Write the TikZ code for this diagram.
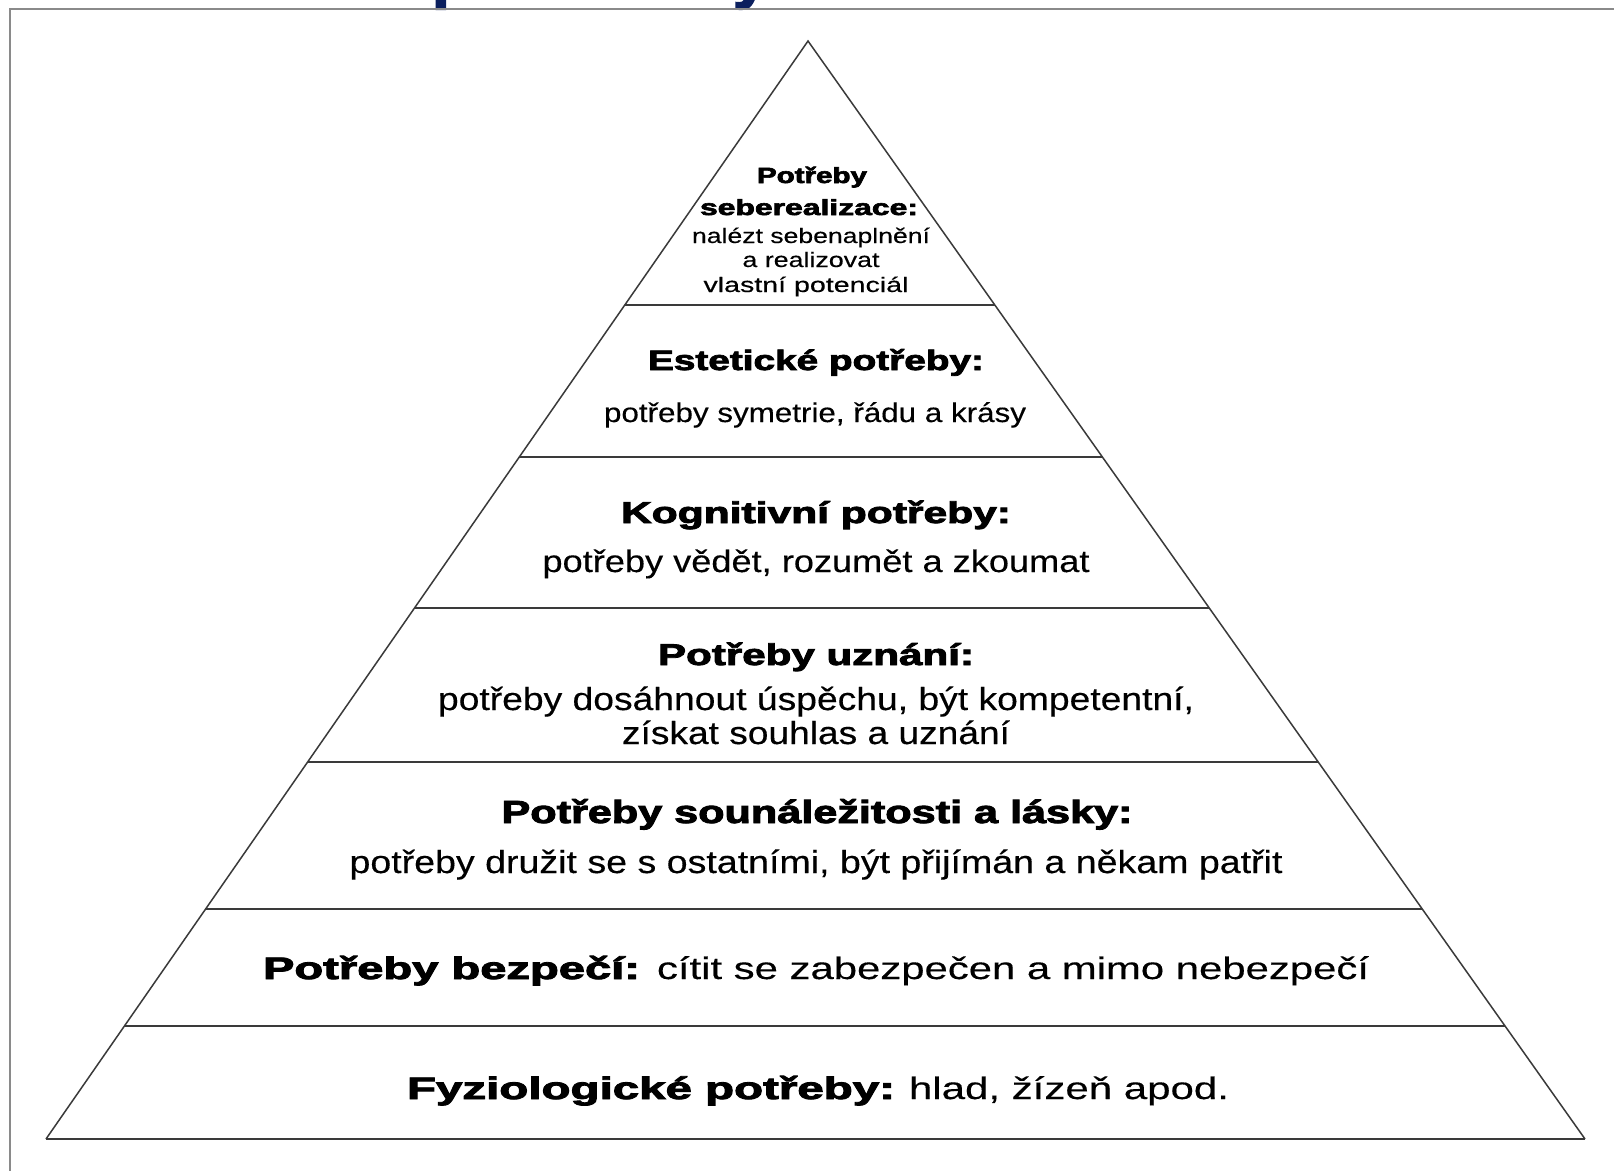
\documentclass[tikz,border=0pt]{standalone}
\usepackage{fontspec}
\setmainfont[UprightFeatures={FakeBold=0.3}, BoldFeatures={FakeBold=2.6}]{Liberation Sans}
\usepackage{graphicx}
\usetikzlibrary{calc}
\definecolor{navy}{HTML}{0B1F5E}
\definecolor{edgegray}{HTML}{3A3A3A}
\definecolor{framegray}{HTML}{8A8A8A}
\newcommand{\fitw}[2]{\resizebox{#1pt}{\height}{#2}}
\newcommand{\fs}[1]{\fontsize{#1}{#1}\selectfont}
\begin{document}
\begin{tikzpicture}[x=1pt,y=-1pt,
  lbl/.style={inner sep=0pt, outer sep=0pt, anchor=base},
  lblw/.style={inner sep=0pt, outer sep=0pt, anchor=base west},
  side/.style={draw=edgegray, line width=1.5pt},
  tier/.style={draw=edgegray, line width=2.2pt}]
\useasboundingbox[fill=white] (0,0) rectangle (1614,1170);
% cut-off title fragments
\node[lblw, text=navy, font=\bfseries\fs{64}] (tp) at (432,-4) {p};
\node[lblw, text=navy, font=\bfseries\fs{64}] (ty) at (733,-4) {y};
% frame
\draw[framegray, line width=2pt] (10,9) rectangle (1640,1200);
% pyramid
\coordinate (apex) at (808,41);
\coordinate (bl) at (46,1139);
\coordinate (br) at (1585,1139);
\draw[side] (bl) -- (apex) -- (br);
\draw[tier] (bl) -- (br);
\foreach \yy in {305,457,608,762,909,1026}{
  \draw[tier] ($(apex)!{(\yy-41)/1098}!(bl)$) -- ($(apex)!{(\yy-41)/1098}!(br)$);
}
% level 7
\node[lbl, font=\bfseries\fs{22}] (t7a) at (812,183) {\fitw{110}{Potřeby}};
\node[lbl, font=\bfseries\fs{22}] (t7b) at (809,215) {\fitw{218}{seberealizace:}};
\node[lbl, font=\fs{21}] (t7c) at (811,243) {\fitw{238}{nalézt sebenaplnění}};
\node[lbl, font=\fs{21}] (t7d) at (811,267) {\fitw{137}{a realizovat}};
\node[lbl, font=\fs{21}] (t7e) at (806,292) {\fitw{205}{vlastní potenciál}};
% level 6
\node[lbl, font=\bfseries\fs{28}] (t6a) at (816,370) {\fitw{336}{Estetické potřeby:}};
\node[lbl, font=\fs{27}] (t6b) at (815,422) {\fitw{422}{potřeby symetrie, řádu a krásy}};
% level 5
\node[lbl, font=\bfseries\fs{30}] (t5a) at (816,523) {\fitw{390}{Kognitivní potřeby:}};
\node[lbl, font=\fs{31}] (t5b) at (816,572) {\fitw{547}{potřeby vědět, rozumět a zkoumat}};
% level 4
\node[lbl, font=\bfseries\fs{30}] (t4a) at (816,665) {\fitw{316}{Potřeby uznání:}};
\node[lbl, font=\fs{32}] (t4b) at (816,710) {\fitw{756}{potřeby dosáhnout úspěchu, být kompetentní,}};
\node[lbl, font=\fs{32}] (t4c) at (816,744) {\fitw{388}{získat souhlas a uznání}};
% level 3
\node[lbl, font=\bfseries\fs{32}] (t3a) at (817,823) {\fitw{631}{Potřeby sounáležitosti a lásky:}};
\node[lbl, font=\fs{32}] (t3b) at (816,873) {\fitw{933}{potřeby družit se s ostatními, být přijímán a někam patřit}};
% level 2
\node[lblw, font=\bfseries\fs{31}] (t2a) at (263,979) {\fitw{377}{Potřeby bezpečí:}};
\node[lblw, font=\fs{31}] (t2b) at (657,979) {\fitw{712}{cítit se zabezpečen a mimo nebezpečí}};
% level 1
\node[lblw, font=\bfseries\fs{31}] (t1a) at (407,1099) {\fitw{488}{Fyziologické potřeby:}};
\node[lblw, font=\fs{31}] (t1b) at (909,1099) {\fitw{320}{hlad, žízeň apod.}};
\end{tikzpicture}
\end{document}
